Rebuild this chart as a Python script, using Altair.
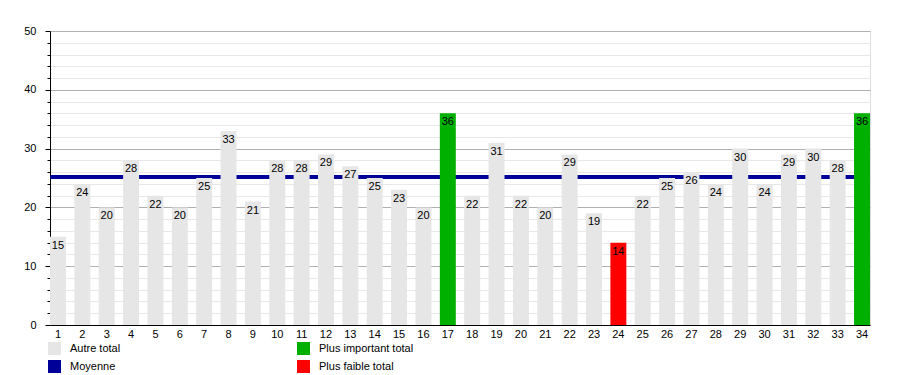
import altair as alt
import pandas as pd

categories = list(range(1, 35))
values = [15, 24, 20, 28, 22, 20, 25, 33, 21, 28, 28, 29, 27, 25, 23, 20, 36,
          22, 31, 22, 20, 29, 19, 14, 22, 25, 26, 24, 30, 24, 29, 30, 28, 36]
mean_value = 25.15

legend_names = ["Autre total", "Moyenne", "Plus important total", "Plus faible total"]
legend_colors = ["#e6e6e6", "#000099", "#00b000", "#ff0000"]

vmax, vmin = max(values), min(values)
groups = ["Plus important total" if v == vmax else ("Plus faible total" if v == vmin else "Autre total")
          for v in values]
df = pd.DataFrame({"cat": categories, "value": values, "group": groups})

font = "Liberation Sans"

y_scale = alt.Scale(domain=[0, 50], nice=False)
x_enc = alt.X("cat:O", title=None,
              scale=alt.Scale(paddingInner=0.345, paddingOuter=0),
              axis=alt.Axis(labelAngle=0, ticks=False, domainColor="black",
                            labelColor="black", labelFontSize=11, labelFont=font,
                            labelPadding=3, grid=False))

y_axis = alt.Axis(
    values=list(range(0, 51, 2)),
    labelExpr="datum.value % 10 === 0 ? datum.label : ''",
    labelOverlap=False,
    grid=True,
    gridColor={"condition": {"test": "datum.value % 10 === 0", "value": "#b0b0b0"}, "value": "#e8e8e8"},
    tickSize={"condition": {"test": "datum.value % 10 === 0", "value": 5}, "value": 3},
    tickColor="black", domainColor="black", labelColor="black",
    labelFontSize=11, labelFont=font, labelPadding=9, title=None,
)

base = alt.Chart(df)

mean_rule = alt.Chart(df).mark_rule(color="#000099", strokeWidth=3).encode(
    y=alt.Y(datum=mean_value, type="quantitative", scale=y_scale, axis=y_axis)
)

bars = base.mark_bar().encode(
    x=x_enc,
    y=alt.Y("value:Q", scale=y_scale, axis=y_axis),
    color=alt.Color("group:N",
                    scale=alt.Scale(domain=legend_names, range=legend_colors),
                    legend=alt.Legend(title=None, orient="none", legendX=-2, legendY=311,
                                      columns=2, columnPadding=176, rowPadding=5,
                                      symbolType="square", symbolSize=169,
                                      symbolStrokeWidth=0, symbolOpacity=1,
                                      labelFontSize=11, labelFont=font, labelColor="black",
                                      labelOffset=9)),
)

labels = base.mark_text(baseline="middle", dy=9, fontSize=11, font=font, color="black").encode(
    x=x_enc,
    y=alt.Y("value:Q", scale=y_scale, axis=y_axis),
    text="value:Q",
)

chart = alt.layer(mean_rule, bars, labels).properties(
    width=820, height=294,
    autosize=alt.AutoSizeParams(type="none"),
    padding={"left": 42, "top": 23, "right": 14, "bottom": 50},
).configure_view(stroke=None).configure(background="white")

chart.save("out.html", embed_options={"renderer": "svg", "actions": False})
